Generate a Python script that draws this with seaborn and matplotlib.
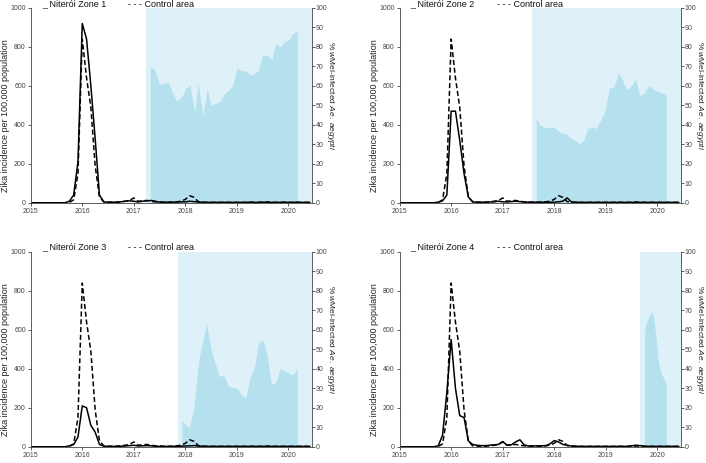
import numpy as np
import matplotlib
matplotlib.use("Agg")
import matplotlib.pyplot as plt
import seaborn as sns

# Monthly Zika incidence per 100,000, Jan 2015 - Jun 2020
months = 2015 + np.arange(66) / 12

control = [0, 0, 0, 0, 0, 0, 0, 0, 0, 2, 15, 150,
           840, 640, 490, 190, 30, 5, 3, 3, 3, 5, 8, 12,
           25, 8, 10, 12, 8, 5, 4, 3, 3, 3, 5, 8,
           18, 36, 28, 6, 3, 2, 2, 2, 2, 2, 2, 2,
           2, 2, 2, 3, 2, 2, 3, 4, 3, 2, 2, 2,
           2, 2, 2, 2, 2, 2]
zone1 = [0, 0, 0, 0, 0, 0, 0, 0, 0, 8, 40, 210,
         920, 840, 600, 330, 40, 5, 3, 3, 3, 5, 8, 10,
         8, 4, 8, 10, 12, 8, 3, 3, 3, 3, 4, 5,
         5, 8, 6, 4, 3, 2, 2, 2, 2, 2, 2, 2,
         2, 2, 2, 3, 2, 2, 3, 2, 2, 2, 2, 3,
         2, 2, 3, 2, 2, 2]
zone2 = [0, 0, 0, 0, 0, 0, 0, 0, 0, 3, 10, 40,
         470, 470, 320, 150, 30, 5, 3, 3, 3, 4, 5, 8,
         5, 4, 6, 8, 6, 4, 3, 3, 3, 3, 3, 3,
         3, 5, 8, 25, 4, 3, 2, 2, 2, 2, 2, 2,
         2, 2, 2, 2, 2, 2, 2, 2, 2, 2, 2, 2,
         2, 2, 2, 2, 2, 2]
zone3 = [0, 0, 0, 0, 0, 0, 0, 0, 0, 5, 12, 50,
         210, 200, 110, 75, 12, 3, 2, 2, 2, 3, 4, 6,
         8, 4, 5, 6, 5, 3, 2, 2, 2, 2, 3, 3,
         4, 5, 6, 4, 3, 2, 2, 2, 2, 2, 2, 2,
         2, 2, 2, 2, 2, 2, 2, 2, 2, 2, 2, 2,
         2, 2, 2, 2, 2, 2]
zone4 = [0, 0, 0, 0, 0, 0, 0, 0, 0, 5, 60, 280,
         550, 300, 160, 150, 30, 12, 8, 6, 6, 8, 10, 12,
         27, 8, 10, 25, 36, 10, 4, 4, 5, 5, 6, 15,
         32, 25, 12, 8, 4, 3, 2, 2, 2, 2, 2, 2,
         2, 2, 2, 2, 2, 2, 5, 8, 6, 3, 2, 2,
         2, 2, 2, 2, 2, 2]

# wMel release start and % wMel-infected Ae. aegypti
release = [2017.24, 2017.57, 2017.85, 2019.67]

wmel1_t = [2017.32, 2017.40, 2017.50, 2017.59, 2017.67, 2017.75, 2017.83, 2017.94,
           2018.01, 2018.09, 2018.18, 2018.25, 2018.34, 2018.42, 2018.50, 2018.58,
           2018.67, 2018.76, 2018.84, 2018.92, 2019.00, 2019.08, 2019.18, 2019.26,
           2019.34, 2019.42, 2019.50, 2019.59, 2019.68, 2019.75, 2019.84, 2019.92,
           2020.01, 2020.08, 2020.17]
wmel1_p = [69.7, 68.5, 60.9, 61.2, 62.0, 56.6, 52.1, 54.9,
           58.6, 60.3, 46.7, 61.2, 44.4, 58.6, 50.1, 50.9,
           52.1, 56.1, 57.8, 60.3, 69.4, 68.0, 67.5, 65.5,
           66.3, 68.0, 76.1, 75.4, 73.7, 81.7, 80.0, 82.6,
           83.8, 86.8, 88.0]

wmel2_t = [2017.65, 2017.73, 2017.83, 2017.91, 2018.00, 2018.08, 2018.15, 2018.23,
           2018.31, 2018.41, 2018.49, 2018.57, 2018.65, 2018.73, 2018.81, 2018.90,
           2018.99, 2019.07, 2019.16, 2019.24, 2019.33, 2019.40, 2019.49, 2019.58,
           2019.66, 2019.74, 2019.84, 2019.92, 2020.00, 2020.08, 2020.17]
wmel2_p = [43.2, 39.8, 38.5, 38.8, 38.8, 36.8, 35.6, 35.7,
           33.3, 32.0, 30.4, 32.1, 38.1, 38.8, 38.1, 42.4,
           47.5, 59.0, 59.5, 66.7, 62.9, 57.8, 60.0, 63.4,
           54.9, 56.1, 60.3, 58.3, 57.3, 56.4, 55.2]

wmel3_t = [2017.93, 2018.00, 2018.08, 2018.16, 2018.27, 2018.41, 2018.50, 2018.58,
           2018.66, 2018.74, 2018.84, 2018.92, 2019.01, 2019.10, 2019.17, 2019.26,
           2019.35, 2019.42, 2019.50, 2019.58, 2019.67, 2019.75, 2019.84, 2019.93,
           2020.01, 2020.09, 2020.17]
wmel3_p = [13.5, 11.3, 10.0, 19.8, 46.2, 63.0, 49.7, 42.8,
           36.0, 36.9, 30.9, 30.4, 30.0, 26.3, 25.3, 36.0,
           42.0, 53.6, 54.8, 48.0, 32.0, 33.1, 40.3, 38.9,
           37.7, 36.9, 40.3]

wmel4_t = [2019.75, 2019.77, 2019.83, 2019.90, 2019.94, 2019.98, 2020.03, 2020.08, 2020.15, 2020.17]
wmel4_p = [55.6, 62.4, 66.7, 69.2, 64.0, 53.8, 41.9, 37.6, 33.3, 33.0]

zone_names = ["Niterói Zone 1", "Niterói Zone 2", "Niterói Zone 3", "Niterói Zone 4"]
zones = [zone1, zone2, zone3, zone4]
wmel_t = [wmel1_t, wmel2_t, wmel3_t, wmel4_t]
wmel_p = [wmel1_p, wmel2_p, wmel3_p, wmel4_p]

sns.set_style("ticks")
plt.rcParams['font.family'] = ['Liberation Sans', 'DejaVu Sans']
plt.rcParams['mathtext.fontset'] = 'custom'
plt.rcParams['mathtext.rm'] = 'Liberation Sans'
plt.rcParams['mathtext.it'] = 'Liberation Sans:italic'

light_blue = "#dff1f8"
fill_blue = "#b5e1ef"
spine_col = "#444444"
x_end = 2020.45

fig = plt.figure(figsize=(7.06, 4.63), dpi=100)
boxes = [[0.0435, 0.562, 0.398, 0.421], [0.566, 0.562, 0.398, 0.421],
         [0.0435, 0.035, 0.398, 0.421], [0.566, 0.035, 0.398, 0.421]]

for i in range(4):
    ax = fig.add_axes(boxes[i])
    ax2 = ax.twinx()
    ax.set_zorder(ax2.get_zorder() + 1)
    ax.patch.set_visible(False)

    # release period shading and wMel prevalence
    ax2.axvspan(release[i], x_end, color=light_blue, lw=0)
    ax2.fill_between(wmel_t[i], 0, wmel_p[i], color=fill_blue, lw=0)
    ax2.set_ylim(0, 100)
    ax2.set_yticks(range(0, 101, 10))

    sns.lineplot(x=months, y=control, ax=ax, color='black', lw=1.1, linestyle=(0, (3.3, 1.8)))
    sns.lineplot(x=months, y=zones[i], ax=ax, color='black', lw=1.1)

    ax.set_xlim(2015, x_end)
    ax.set_ylim(0, 1000)
    ax.set_yticks(range(0, 1001, 200))
    ax.set_xticks(range(2015, 2021))

    ax.set_ylabel("Zika incidence per 100,000 population", fontsize=6.5, color='#222222', va='center')
    ax.yaxis.set_label_coords(-0.088, 0.445)
    ax2.set_ylabel(r"% $\it{w}$Mel-infected $\it{Ae.\ aegypti}$", fontsize=6, color='#222222',
                   rotation=270, va='center')
    ax2.yaxis.set_label_coords(1.068, 0.55)

    for a in (ax, ax2):
        a.tick_params(labelsize=5, length=2, width=0.6, colors=spine_col, pad=1.5)
        a.spines['top'].set_visible(False)
        for s in a.spines.values():
            s.set_linewidth(0.6)
            s.set_color(spine_col)
    ax2.tick_params(pad=1)
    ax.spines['right'].set_visible(False)
    ax2.spines['left'].set_visible(False)
    ax2.spines['bottom'].set_visible(False)

    ytxt = 1.019 if i < 2 else 1.024
    ax.text(0.039, ytxt, "_ " + zone_names[i], transform=ax.transAxes, fontsize=6.5,
            va='center', ha='left', color='#111111')
    ax.text(0.346, ytxt, "- - - Control area", transform=ax.transAxes, fontsize=6.5,
            va='center', ha='left', color='#111111')

fig.savefig("out.png", dpi=100)
